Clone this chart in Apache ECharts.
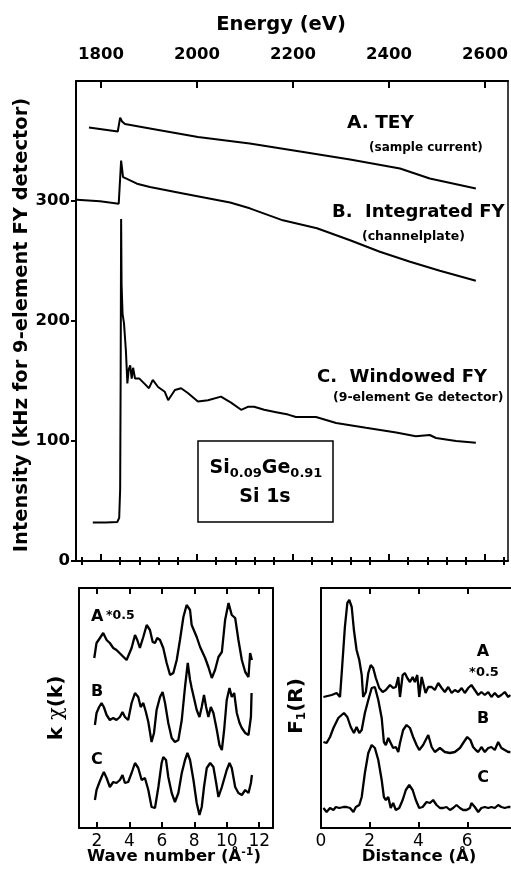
<!DOCTYPE html>
<html><head><meta charset="utf-8">
<script src="https://cdn.jsdelivr.net/npm/echarts@6/dist/echarts.min.js"></script>
<style>html,body{margin:0;padding:0;background:#fff}#c{width:511px;height:876px}</style>
</head><body><div id="c"></div>
<script>
// ---- Main panel: Si 1s XANES (Energy in eV, intensity in kHz) ----
const energyMajor = [1800, 2000, 2200, 2400, 2600];
const energyMinor = [1760, 1840, 1880, 1920, 1960, 2040, 2080, 2120, 2160, 2240, 2280, 2320, 2360, 2440, 2480, 2520, 2560, 2640];
const intensityTicks = [0, 100, 200, 300];

const teyE = [1775, 1835, 1840, 1844, 1850, 1902, 2002, 2110, 2215, 2319, 2423, 2485, 2581];
const teyI = [361.2, 357.9, 369.5, 366.2, 364.1, 360.4, 353.3, 347.9, 341.2, 334.6, 327.1, 318.8, 310.5];

const ifyE = [1750, 1798, 1837, 1842, 1846, 1852, 1856, 1875, 1902, 1971, 2069, 2110, 2179, 2250, 2319, 2381, 2444, 2506, 2581];
const ifyI = [301.1, 299.7, 297.8, 333.7, 319.9, 318.8, 320.4, 314.4, 311.6, 306.3, 298.8, 293.9, 283.9, 277.3, 267.3, 257.7, 249.4, 241.9, 233.6];

const wfyE = [1783, 1810, 1834, 1838, 1840, 1841, 1842, 1843, 1845, 1848, 1852, 1855, 1858, 1861, 1864, 1867, 1871, 1880, 1890, 1900, 1908, 1919, 1933, 1940, 1954, 1967, 1981, 2002, 2023, 2050, 2071, 2092, 2106, 2119, 2140, 2165, 2190, 2206, 2248, 2290, 2352, 2415, 2456, 2485, 2498, 2540, 2581];
const wfyI = [32, 32, 32.5, 36, 60, 150, 285, 230, 206, 198, 175, 148, 160, 163, 152, 161, 152, 152, 148, 144, 151, 145, 141, 134, 142.5, 144, 140, 133, 134, 137, 132, 126, 128.5, 128.5, 126, 124, 122, 120, 120, 115, 111, 107, 104, 105, 102.5, 100, 98.5];

// ---- Lower left: k*chi(k), offset curves (arbitrary units) ----
const waveTicks = [2, 4, 6, 8, 10, 12];
const kA = [1.84, 1.98, 2.19, 2.39, 2.60, 2.80, 3.01, 3.21, 3.52, 3.83, 4.14, 4.35, 4.49, 4.65, 4.86, 5.07, 5.27, 5.44, 5.58, 5.72, 5.89, 6.09, 6.30, 6.51, 6.71, 6.92, 7.12, 7.33, 7.53, 7.74, 7.84, 8.15, 8.36, 8.67, 8.87, 9.08, 9.28, 9.49, 9.70, 9.90, 10.11, 10.31, 10.52, 10.72, 10.93, 11.14, 11.34, 11.44, 11.55];
const chiA = [17.0, 18.5, 19.0, 19.5, 18.8, 18.5, 18.0, 17.8, 17.3, 16.8, 18.0, 19.3, 18.8, 18.0, 19.1, 20.3, 19.8, 18.6, 18.5, 19.0, 18.8, 18.0, 16.5, 15.3, 15.5, 16.8, 18.8, 21.1, 22.3, 21.8, 20.3, 19.1, 18.1, 17.0, 16.1, 15.0, 15.8, 17.1, 17.6, 20.8, 22.5, 21.3, 21.0, 18.8, 16.8, 15.6, 15.1, 17.5, 16.8];
const kB = [1.88, 1.98, 2.14, 2.29, 2.43, 2.60, 2.80, 3.01, 3.21, 3.42, 3.58, 3.73, 3.93, 4.14, 4.35, 4.55, 4.70, 4.86, 5.02, 5.17, 5.37, 5.52, 5.68, 5.89, 6.05, 6.20, 6.40, 6.61, 6.81, 7.02, 7.23, 7.43, 7.60, 7.74, 7.84, 8.01, 8.15, 8.32, 8.46, 8.60, 8.73, 8.87, 9.02, 9.18, 9.39, 9.55, 9.70, 9.84, 10.00, 10.17, 10.31, 10.46, 10.62, 10.79, 10.93, 11.14, 11.34, 11.49, 11.53];
const chiB = [10.3, 11.5, 12.1, 12.5, 12.1, 11.3, 10.8, 11.0, 10.8, 11.1, 11.6, 11.1, 10.8, 12.5, 13.5, 13.1, 12.1, 12.5, 11.6, 10.6, 8.6, 9.5, 11.8, 13.1, 13.6, 12.5, 10.5, 9.0, 8.6, 8.8, 10.8, 14.1, 16.5, 14.8, 14.0, 12.8, 11.8, 11.1, 12.1, 13.3, 12.1, 11.1, 12.1, 11.5, 9.8, 8.3, 7.8, 9.8, 12.8, 14.0, 13.1, 13.5, 11.5, 10.5, 10.0, 9.5, 9.3, 11.1, 13.5];
const kC = [1.88, 1.98, 2.14, 2.29, 2.43, 2.60, 2.80, 3.01, 3.21, 3.42, 3.58, 3.73, 3.93, 4.14, 4.35, 4.55, 4.76, 4.96, 5.17, 5.37, 5.58, 5.79, 5.99, 6.09, 6.26, 6.40, 6.61, 6.81, 7.02, 7.23, 7.43, 7.58, 7.74, 7.95, 8.15, 8.32, 8.46, 8.60, 8.77, 8.98, 9.18, 9.35, 9.49, 9.70, 10.00, 10.17, 10.31, 10.52, 10.72, 10.93, 11.14, 11.34, 11.49, 11.55];
const chiC = [2.8, 3.8, 4.5, 5.1, 5.6, 5.0, 4.1, 4.6, 4.5, 4.8, 5.3, 4.5, 4.6, 5.5, 6.5, 6.0, 4.8, 5.0, 3.8, 2.1, 2.0, 4.1, 6.5, 7.1, 6.8, 5.1, 3.5, 2.6, 3.5, 5.5, 6.8, 7.5, 6.8, 4.8, 2.5, 1.3, 2.1, 4.1, 6.0, 6.5, 6.1, 4.5, 3.1, 4.1, 5.8, 6.5, 6.0, 4.1, 3.5, 3.3, 3.8, 3.5, 4.5, 5.3];

// ---- Lower right: F1(R), offset curves (arbitrary units) ----
const distTicks = [2, 4, 6];
const distLabels = [0, 2, 4, 6];
const rA = [0.10, 0.44, 0.64, 0.78, 0.85, 0.98, 1.08, 1.16, 1.26, 1.35, 1.46, 1.57, 1.67, 1.73, 1.84, 1.94, 2.04, 2.14, 2.25, 2.39, 2.53, 2.66, 2.83, 2.96, 3.07, 3.17, 3.24, 3.35, 3.44, 3.54, 3.65, 3.76, 3.85, 3.95, 4.03, 4.13, 4.19, 4.29, 4.40, 4.54, 4.67, 4.81, 4.95, 5.08, 5.22, 5.36, 5.49, 5.63, 5.77, 5.90, 6.04, 6.17, 6.31, 6.45, 6.58, 6.72, 6.86, 6.99, 7.13, 7.27, 7.40, 7.54, 7.68, 7.77];
const fA = [13.1, 13.3, 13.5, 13.1, 15.5, 20.1, 22.5, 22.8, 22.1, 19.8, 17.8, 16.8, 15.3, 13.1, 13.6, 15.5, 16.3, 16.0, 15.0, 14.0, 13.6, 13.8, 14.3, 14.0, 14.1, 15.1, 13.1, 15.3, 15.5, 15.0, 14.6, 15.1, 14.6, 15.3, 13.1, 15.1, 15.3, 13.5, 14.1, 14.1, 13.8, 14.5, 14.0, 13.6, 14.1, 13.5, 13.8, 13.6, 14.0, 13.5, 14.0, 14.3, 13.8, 13.3, 13.6, 13.3, 13.6, 13.1, 13.5, 13.1, 13.3, 13.6, 13.1, 13.3];
const rB = [0.10, 0.23, 0.37, 0.51, 0.71, 0.94, 1.08, 1.22, 1.35, 1.46, 1.57, 1.67, 1.80, 1.94, 2.08, 2.21, 2.35, 2.49, 2.58, 2.66, 2.76, 2.86, 2.96, 3.07, 3.17, 3.24, 3.37, 3.51, 3.65, 3.78, 3.92, 4.03, 4.19, 4.40, 4.54, 4.67, 4.88, 5.08, 5.29, 5.49, 5.70, 5.86, 6.00, 6.13, 6.24, 6.35, 6.45, 6.58, 6.72, 6.86, 6.99, 7.13, 7.27, 7.40, 7.54, 7.68, 7.77];
const fB = [8.6, 8.5, 9.1, 10.0, 11.0, 11.5, 11.1, 10.1, 9.5, 10.1, 9.5, 9.8, 11.5, 12.8, 14.0, 14.1, 12.8, 11.0, 8.6, 8.3, 9.0, 8.5, 8.0, 8.1, 7.6, 8.5, 9.8, 10.3, 10.0, 9.1, 8.3, 7.8, 8.3, 9.3, 8.1, 7.6, 8.0, 7.6, 7.5, 7.6, 8.0, 8.6, 9.1, 8.8, 8.1, 7.8, 7.6, 8.1, 7.6, 8.0, 8.1, 7.8, 8.6, 8.0, 7.8, 7.6, 7.6];
const rC = [0.10, 0.23, 0.37, 0.51, 0.61, 0.75, 0.92, 1.05, 1.19, 1.33, 1.43, 1.57, 1.67, 1.80, 1.94, 2.08, 2.21, 2.35, 2.49, 2.58, 2.66, 2.76, 2.86, 2.96, 3.07, 3.21, 3.35, 3.48, 3.62, 3.76, 3.89, 4.03, 4.17, 4.33, 4.47, 4.60, 4.74, 4.88, 5.01, 5.15, 5.29, 5.42, 5.56, 5.70, 5.83, 5.97, 6.11, 6.17, 6.31, 6.45, 6.58, 6.72, 6.86, 6.99, 7.13, 7.27, 7.40, 7.54, 7.68, 7.77];
const fC = [2.0, 1.6, 2.0, 1.8, 2.1, 2.0, 2.1, 2.1, 2.0, 1.6, 2.1, 2.3, 3.1, 5.5, 7.5, 8.3, 8.0, 6.8, 4.8, 3.1, 2.8, 3.1, 2.0, 2.5, 1.8, 2.0, 2.8, 3.8, 4.3, 3.8, 2.8, 2.0, 2.1, 2.6, 2.5, 2.8, 2.3, 2.0, 2.0, 2.1, 1.8, 2.0, 2.3, 2.0, 1.8, 1.8, 2.0, 2.5, 2.1, 1.6, 2.0, 2.1, 2.0, 2.1, 2.0, 2.3, 2.1, 2.0, 2.1, 2.1];

const FONT = '"DejaVu Sans", sans-serif';
const BLK = '#000';
const zip = (xs, ys) => xs.map((x, i) => [x, ys[i]]);

function xAx(gridIndex, pos, min, max, opts) {
  return Object.assign({
    type: 'value', gridIndex, position: pos, min, max,
    axisLine: { show: true, onZero: false, lineStyle: { color: BLK, width: 2 } },
    axisTick: { show: false }, axisLabel: { show: false },
    splitLine: { show: false }, minorTick: { show: false }
  }, opts);
}
function yAx(gridIndex, pos, min, max, opts) {
  return Object.assign({
    type: 'value', gridIndex, position: pos, min, max,
    axisLine: { show: true, onZero: false, lineStyle: { color: BLK, width: 2 } },
    axisTick: { show: false }, axisLabel: { show: false },
    splitLine: { show: false }
  }, opts);
}
const tick = (vals, len, inside) => ({ show: true, inside, length: len, customValues: vals, lineStyle: { color: BLK, width: 2 } });
const lbl = (vals, size, weight, margin) => ({ show: true, customValues: vals, fontSize: size, fontWeight: weight, fontFamily: FONT, color: BLK, margin, formatter: v => String(v) });

function line(xi, yi, data, w) {
  return { type: 'line', xAxisIndex: xi, yAxisIndex: yi, data, showSymbol: false, symbol: 'none',
    lineStyle: { color: BLK, width: w }, silent: true, animation: false };
}

const chart = echarts.init(document.getElementById('c'), null, { renderer: 'canvas' });
chart.setOption({
  backgroundColor: '#fff',
  animation: false,
  grid: [
    { left: 76, top: 81, width: 432, height: 480, outerBoundsMode: 'none', containLabel: false },
    { left: 79, top: 588, width: 194, height: 240, outerBoundsMode: 'none', containLabel: false },
    { left: 321, top: 588, width: 195, height: 240, outerBoundsMode: 'none', containLabel: false }
  ],
  xAxis: [
    xAx(0, 'top', 1748, 2648, { axisTick: tick(energyMajor, 7, true), axisLabel: lbl(energyMajor, 16.5, 'bold', 18) }),
    xAx(0, 'top', 1748, 2648, { axisLine: { show: false }, axisTick: tick(energyMinor, 4, true) }),
    xAx(0, 'bottom', 1748, 2648, { axisTick: tick(energyMajor, 7, true) }),
    xAx(0, 'bottom', 1748, 2648, { axisLine: { show: false }, axisTick: tick(energyMinor, 4, true) }),
    xAx(1, 'bottom', 0.9, 12.85, { axisTick: tick(waveTicks, 6, true), axisLabel: lbl(waveTicks, 17, 'normal', 5) }),
    xAx(1, 'top', 0.9, 12.85, { axisTick: tick(waveTicks, 6, true) }),
    xAx(2, 'bottom', 0, 8, { axisTick: tick(distTicks, 6, true), axisLabel: lbl(distLabels, 17, 'normal', 5) }),
    xAx(2, 'top', 0, 8, { axisTick: tick(distTicks, 6, true) })
  ],
  yAxis: [
    yAx(0, 'left', 0, 400, { axisTick: tick(intensityTicks, 5, false), axisLabel: lbl(intensityTicks, 16.5, 'bold', 6) }),
    yAx(0, 'right', 0, 400, { axisLine: { show: true, lineStyle: { color: BLK, width: 1.5 } } }),
    yAx(1, 'left', 0, 24),
    yAx(1, 'right', 0, 24),
    yAx(2, 'left', 0, 24),
    yAx(2, 'right', 0, 24)
  ],
  series: [
    line(0, 0, zip(teyE, teyI), 2),
    line(0, 0, zip(ifyE, ifyI), 2),
    line(0, 0, zip(wfyE, wfyI), 2),
    line(4, 2, zip(kA, chiA), 2.3),
    line(4, 2, zip(kB, chiB), 2.3),
    line(4, 2, zip(kC, chiC), 2.3),
    line(6, 4, zip(rA, fA), 2.3),
    line(6, 4, zip(rB, fB), 2.3),
    line(6, 4, zip(rC, fC), 2.3)
  ],
  graphic: [
    { type: 'text', x: 281, y: 25, style: { text: 'Energy (eV)', font: 'bold 19.5px ' + FONT, fill: BLK, align: 'center', verticalAlign: 'middle' } },
    { type: 'text', x: 22, y: 325, rotation: Math.PI / 2, style: { text: 'Intensity (kHz for 9-element FY detector)', font: 'bold 19.5px ' + FONT, fill: BLK, align: 'center', verticalAlign: 'middle' } },
    { type: 'text', x: 347, y: 123, style: { text: 'A. TEY', font: 'bold 18.5px ' + FONT, fill: BLK, align: 'left', verticalAlign: 'middle' } },
    { type: 'text', x: 369, y: 148, style: { text: '(sample current)', font: 'bold 12px ' + FONT, fill: BLK, align: 'left', verticalAlign: 'middle' } },
    { type: 'text', x: 332, y: 212, style: { text: 'B.  Integrated FY', font: 'bold 18px ' + FONT, fill: BLK, align: 'left', verticalAlign: 'middle' } },
    { type: 'text', x: 362, y: 237, style: { text: '(channelplate)', font: 'bold 12.5px ' + FONT, fill: BLK, align: 'left', verticalAlign: 'middle' } },
    { type: 'text', x: 317, y: 377, style: { text: 'C.  Windowed FY', font: 'bold 18px ' + FONT, fill: BLK, align: 'left', verticalAlign: 'middle' } },
    { type: 'text', x: 333, y: 398, style: { text: '(9-element Ge detector)', font: 'bold 12.5px ' + FONT, fill: BLK, align: 'left', verticalAlign: 'middle' } },
    { type: 'rect', shape: { x: 198, y: 441, width: 135, height: 81 }, style: { fill: 'none', stroke: BLK, lineWidth: 1.5 } },
    { type: 'text', x: 266, y: 468, style: { text: 'Si{s|0.09}Ge{s|0.91}', fontFamily: FONT, fontWeight: 'bold', fontSize: 19, fill: BLK, align: 'center', verticalAlign: 'middle',
        rich: { s: { fontFamily: FONT, fontWeight: 'bold', fontSize: 13, padding: [12, 0, 0, 0] } } } },
    { type: 'text', x: 265, y: 497, style: { text: 'Si 1s', font: 'bold 19px ' + FONT, fill: BLK, align: 'center', verticalAlign: 'middle' } },
    // lower left labels
    { type: 'text', x: 91, y: 617, style: { text: 'A', font: 'bold 16px ' + FONT, fill: BLK, align: 'left', verticalAlign: 'middle' } },
    { type: 'text', x: 106, y: 616, style: { text: '*0.5', font: 'bold 12.5px ' + FONT, fill: BLK, align: 'left', verticalAlign: 'middle' } },
    { type: 'text', x: 91, y: 692, style: { text: 'B', font: 'bold 16px ' + FONT, fill: BLK, align: 'left', verticalAlign: 'middle' } },
    { type: 'text', x: 91, y: 760, style: { text: 'C', font: 'bold 16px ' + FONT, fill: BLK, align: 'left', verticalAlign: 'middle' } },
    { type: 'text', x: 57, y: 708, rotation: Math.PI / 2, style: { text: 'k {c|χ}(k)', fontFamily: FONT, fontWeight: 'bold', fontSize: 20, fill: BLK, align: 'center', verticalAlign: 'middle',
        rich: { c: { fontFamily: '"DejaVu Serif", serif', fontSize: 21, fontWeight: 'normal' } } } },
    { type: 'text', x: 174, y: 857, style: { text: 'Wave number (Å{p|-1})', fontFamily: FONT, fontWeight: 'bold', fontSize: 16.5, fill: BLK, align: 'center', verticalAlign: 'middle',
        rich: { p: { fontFamily: FONT, fontWeight: 'bold', fontSize: 11, padding: [0, 0, 9, 0] } } } },
    // lower right labels
    { type: 'text', x: 483, y: 652, style: { text: 'A', font: 'bold 16px ' + FONT, fill: BLK, align: 'center', verticalAlign: 'middle' } },
    { type: 'text', x: 484, y: 673, style: { text: '*0.5', font: 'bold 13px ' + FONT, fill: BLK, align: 'center', verticalAlign: 'middle' } },
    { type: 'text', x: 483, y: 719, style: { text: 'B', font: 'bold 16px ' + FONT, fill: BLK, align: 'center', verticalAlign: 'middle' } },
    { type: 'text', x: 483, y: 778, style: { text: 'C', font: 'bold 16px ' + FONT, fill: BLK, align: 'center', verticalAlign: 'middle' } },
    { type: 'text', x: 297, y: 706, rotation: Math.PI / 2, style: { text: 'F{s|1}(R)', fontFamily: FONT, fontWeight: 'bold', fontSize: 20, fill: BLK, align: 'center', verticalAlign: 'middle',
        rich: { s: { fontFamily: FONT, fontWeight: 'bold', fontSize: 12, padding: [10, 0, 0, 0] } } } },
    { type: 'text', x: 419, y: 857, style: { text: 'Distance (Å)', font: 'bold 16.5px ' + FONT, fill: BLK, align: 'center', verticalAlign: 'middle' } }
  ]
});
</script>
</body></html>
